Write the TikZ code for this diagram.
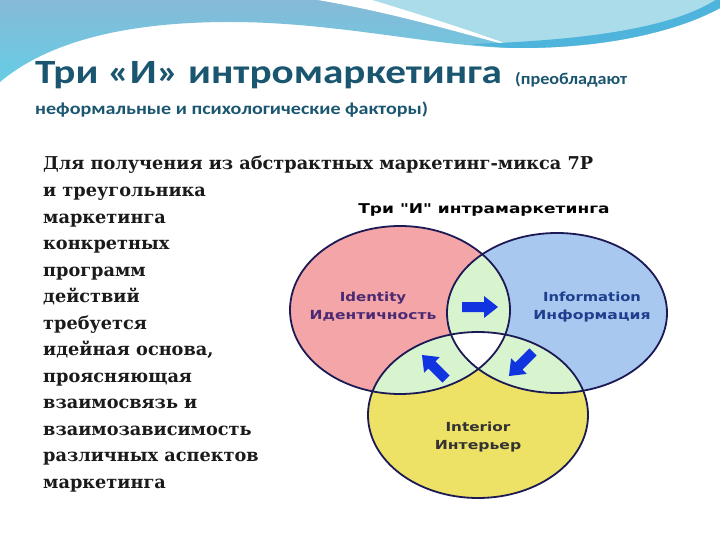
\documentclass[tikz,border=0pt]{standalone}
\usepackage{fontspec}
\setmainfont{DejaVu Serif}
\newfontfamily\titlefont{Carlito}
\newfontfamily\dsans{DejaVu Sans}
\newfontfamily\lsans{Liberation Sans}
\definecolor{bandA}{HTML}{86BAD7}
\definecolor{bandB}{HTML}{66CDE5}
\definecolor{bandC}{HTML}{AADDE9}
\definecolor{stripe}{HTML}{4FB4DC}
\definecolor{titlecol}{HTML}{1B5670}
\definecolor{bodycol}{HTML}{1A1A1A}
\definecolor{redfill}{HTML}{F4A5A8}
\definecolor{bluefill}{HTML}{A9C8F0}
\definecolor{yellowfill}{HTML}{EDE166}
\definecolor{lensfill}{HTML}{D8F4CF}
\definecolor{edgecol}{HTML}{1C1A55}
\definecolor{arrowblue}{HTML}{1034E0}
\definecolor{idcol}{HTML}{4A2A72}
\definecolor{infocol}{HTML}{1F3F8E}
\definecolor{intcol}{HTML}{333333}
\newcommand\wideby[2]{\scalebox{#1}[1]{#2}}
\tikzset{
  bodytext/.style={anchor=base west, inner sep=0pt, text=bodycol,
    font=\bfseries\fontsize{17.7}{20}\selectfont},
  headtext/.style={anchor=base west, inner sep=0pt, text=titlecol},
  vlabel/.style={align=center, inner sep=0pt,
    font=\dsans\bfseries\fontsize{12.5}{18}\selectfont},
  ringedge/.style={draw=edgecol, line width=1.8pt},
  blockarrow/.style={fill=arrowblue}
}
\begin{document}
\begin{tikzpicture}[x=1pt,y=-1pt]
\useasboundingbox (0,0) rectangle (720,540);
\fill[white] (0,0) rectangle (720,540);
% top wave band
\shade[top color=bandA, bottom color=bandB] (0,0) -- (0,82) .. controls (50,40) and (130,22) .. (230,22) .. controls (340,22) and (440,48) .. (520,48) .. controls (610,48) and (680,30) .. (720,8) -- (720,0) -- cycle;
\fill[bandC] (345,0) .. controls (420,14) and (480,36) .. (515,47) .. controls (520,48) and (520,48) .. (520,48) .. controls (610,48) and (680,30) .. (720,8) -- (720,0) -- cycle;
\fill[white] (318,0) .. controls (400,14) and (470,36) .. (515,47) .. controls (470,30) and (405,10) .. (372,0) -- cycle;
\fill[stripe] (470,44) .. controls (490,47) and (505,48) .. (520,48) .. controls (610,48) and (680,30) .. (720,8) -- (720,-3) .. controls (680,25) and (600,40) .. (470,44) -- cycle;
% headings
\node[headtext, font=\titlefont\bfseries\fontsize{34}{36}\selectfont] (title) at (35,84) {\wideby{1.21}{Три «И» интромаркетинга}};
\node[headtext, font=\titlefont\bfseries\fontsize{16.5}{18}\selectfont] (title2) at (515,85) {\wideby{1.1}{(преобладают}};
\node[headtext, font=\titlefont\bfseries\fontsize{17}{19}\selectfont] (title3) at (35,115) {\wideby{1.18}{неформальные и психологические факторы)}};
% body text
\foreach \t [count=\i] in {Для получения из абстрактных маркетинг-микса 7Р, и треугольника, маркетинга, конкретных, программ, действий, требуется, {идейная основа,}, проясняющая, взаимосвязь и, взаимозависимость, различных аспектов, маркетинга}
  \node[bodytext] (body\i) at (43,{170+26.5*(\i-1)}) {\t};
% picture area
\fill[white] (265,190) rectangle (700,520);
\node[inner sep=0pt, font=\dsans\bfseries\fontsize{13.5}{16}\selectfont] (dtitle) at (484,210) {\wideby{1.26}{Три "И" интрамаркетинга}};
% circles
\fill[redfill] (400,310) ellipse [x radius=110pt, y radius=84pt];
\fill[bluefill] (557,313) ellipse [x radius=110pt, y radius=80pt];
\fill[yellowfill] (478,415) ellipse [x radius=110pt, y radius=83pt];
\begin{scope}
  \clip (400,310) ellipse [x radius=110pt, y radius=84pt];
  \fill[lensfill] (557,313) ellipse [x radius=110pt, y radius=80pt];
  \fill[lensfill] (478,415) ellipse [x radius=110pt, y radius=83pt];
\end{scope}
\begin{scope}
  \clip (557,313) ellipse [x radius=110pt, y radius=80pt];
  \fill[lensfill] (478,415) ellipse [x radius=110pt, y radius=83pt];
\end{scope}
\begin{scope}
  \clip (400,310) ellipse [x radius=110pt, y radius=84pt];
  \clip (557,313) ellipse [x radius=110pt, y radius=80pt];
  \fill[white] (478,415) ellipse [x radius=110pt, y radius=83pt];
\end{scope}
\draw[ringedge] (400,310) ellipse [x radius=110pt, y radius=84pt];
\draw[ringedge] (557,313) ellipse [x radius=110pt, y radius=80pt];
\draw[ringedge] (478,415) ellipse [x radius=110pt, y radius=83pt];
% arrows
\fill[blockarrow, shift={(480,307)}, rotate=0] (-18,-5) -- (4,-5) -- (4,-11) -- (18,0) -- (4,11) -- (4,5) -- (-18,5) -- cycle;
\fill[blockarrow, shift={(434,367)}, rotate=135] (-17,-5) -- (3,-5) -- (3,-11) -- (17,0) -- (3,11) -- (3,5) -- (-17,5) -- cycle;
\fill[blockarrow, shift={(521,364)}, rotate=225] (-17,-5) -- (3,-5) -- (3,-11) -- (17,0) -- (3,11) -- (3,5) -- (-17,5) -- cycle;
% labels
\node[vlabel, text=idcol] (identity) at (373,307) {\wideby{1.2}{Identity}\\\wideby{1.24}{Идентичность}};
\node[vlabel, text=infocol] (information) at (592,307) {\wideby{1.18}{Information}\\\wideby{1.25}{Информация}};
\node[vlabel, text=intcol] (interior) at (478,437) {\wideby{1.22}{Interior}\\\wideby{1.25}{Интерьер}};
\end{tikzpicture}
\end{document}
